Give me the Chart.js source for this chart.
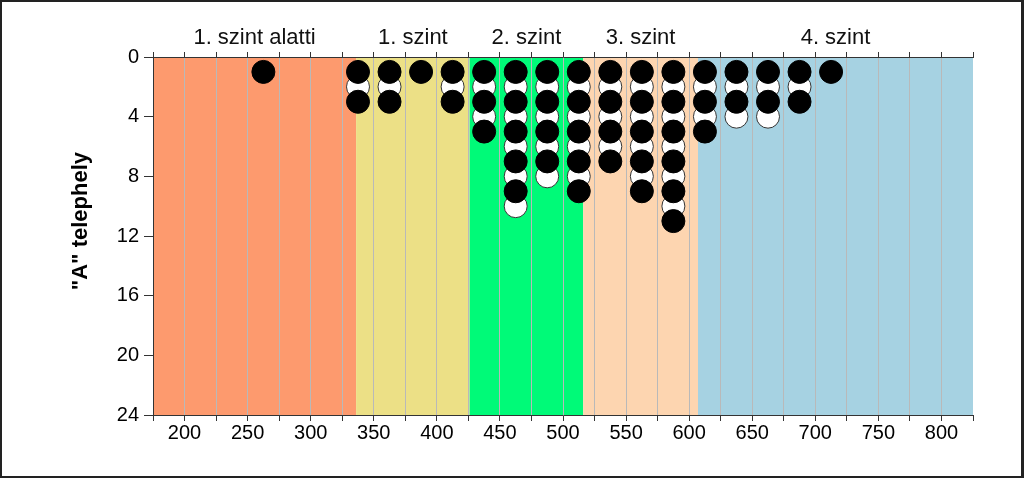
<!DOCTYPE html>
<html>
<head>
<meta charset="utf-8">
<script src="https://cdn.jsdelivr.net/npm/chart.js@4/dist/chart.umd.min.js"></script>
<style>
    html, body { margin: 0; padding: 0; background: #fff; }
    #frame {
        width: 1024px;
        height: 478px;
        box-sizing: border-box;
        border: 2px solid #222;
        border-right-width: 3px;
    }
    canvas { display: block; }
</style>
</head>
<body>
<div id="frame">
    <canvas id="dotChart" width="1019" height="474"></canvas>
</div>
<script>
// Bin centres (x) and how many samples fall in each bin
const binCenters = [262.5, 337.5, 362.5, 387.5, 412.5, 437.5, 462.5, 487.5, 512.5,
                    537.5, 562.5, 587.5, 612.5, 637.5, 662.5, 687.5, 712.5];
const binCounts = [1, 3, 3, 1, 3, 5, 10, 8, 9, 7, 9, 11, 5, 4, 4, 3, 1];

// Level bands along the x axis
const bandLabels = ['1. szint alatti', '1. szint', '2. szint', '3. szint', '4. szint'];
const bandEdges = [175, 336, 426, 516, 607, 825];
const bandColors = ['#fd9a6e', '#ece086', '#00fa78', '#fdd5b0', '#a6d2e2'];

const xMin = 175;
const xMax = 825;
const yTicks = [0, 4, 8, 12, 16, 20, 24];
const yTitle = '"A" telephely';

const FONT = "'Liberation Sans', Arial, sans-serif";

// Stack the dots of each bin, alternating black / white
const blackDots = [];
const whiteDots = [];
binCenters.forEach((x, i) => {
    for (let k = 1; k <= binCounts[i]; k++) {
        (k % 2 === 1 ? blackDots : whiteDots).push({ x: x, y: k });
    }
});

// Coloured level bands behind the grid, band names and the y title on top
const bandsPlugin = {
    id: 'bands',
    beforeDraw(chart) {
        const { ctx, chartArea, scales } = chart;
        ctx.save();
        for (let i = 0; i < bandLabels.length; i++) {
            const x0 = scales.x.getPixelForValue(bandEdges[i]);
            const x1 = scales.x.getPixelForValue(bandEdges[i + 1]);
            ctx.fillStyle = bandColors[i];
            ctx.fillRect(x0, chartArea.top, x1 - x0, chartArea.bottom - chartArea.top);
        }
        ctx.restore();
    },
    afterDraw(chart) {
        const { ctx, chartArea, scales } = chart;
        ctx.save();
        ctx.font = '22px ' + FONT;
        ctx.fillStyle = '#111';
        ctx.textAlign = 'center';
        ctx.textBaseline = 'middle';
        for (let i = 0; i < bandLabels.length; i++) {
            const x0 = scales.x.getPixelForValue(bandEdges[i]);
            const x1 = scales.x.getPixelForValue(bandEdges[i + 1]);
            ctx.fillText(bandLabels[i], (x0 + x1) / 2, chartArea.top - 19);
        }
        // y axis title, sits a bit above the middle of the plot
        ctx.font = 'bold 22px ' + FONT;
        ctx.fillStyle = '#000';
        ctx.translate(79, scales.y.getPixelForValue(11));
        ctx.rotate(-Math.PI / 2);
        ctx.fillText(yTitle, 0, 0);
        ctx.restore();
    }
};

new Chart(document.getElementById('dotChart'), {
    type: 'scatter',
    data: {
        datasets: [
            {
                label: 'black',
                data: blackDots,
                backgroundColor: '#000',
                borderColor: '#000',
                borderWidth: 1,
                pointRadius: 11.5,
                pointHoverRadius: 11.5,
                order: 1
            },
            {
                label: 'white',
                data: whiteDots,
                backgroundColor: '#fff',
                borderColor: '#333',
                borderWidth: 1,
                pointRadius: 11.5,
                pointHoverRadius: 11.5,
                order: 2
            }
        ]
    },
    options: {
        responsive: false,
        animation: false,
        layout: { padding: { left: 0, right: 48, top: 0, bottom: 0 } },
        plugins: {
            legend: { display: false },
            tooltip: { enabled: false }
        },
        scales: {
            x: {
                type: 'linear',
                position: 'bottom',
                min: xMin,
                max: xMax,
                afterBuildTicks(scale) {
                    const ticks = [];
                    for (let v = xMin; v <= xMax; v += 25) ticks.push({ value: v });
                    scale.ticks = ticks;
                },
                ticks: {
                    autoSkip: false,
                    maxRotation: 0,
                    color: '#000',
                    padding: 0,
                    font: { family: FONT, size: 20 },
                    callback: v => (v % 50 === 0 && v > xMin && v < xMax) ? String(v) : ''
                },
                grid: {
                    color: c => (c.tick && (c.tick.value === xMin || c.tick.value === xMax)) ? 'rgba(0,0,0,0)' : '#b9b9b9',
                    tickColor: '#333',
                    tickLength: 6,
                    lineWidth: 1
                },
                border: { display: true, color: '#333', width: 1 },
                afterFit(scale) { scale.height = 61; }
            },
            x2: {
                type: 'linear',
                position: 'top',
                min: xMin,
                max: xMax,
                afterBuildTicks(scale) {
                    const ticks = [];
                    for (let v = xMin; v <= xMax; v += 25) ticks.push({ value: v });
                    scale.ticks = ticks;
                },
                ticks: { display: false, autoSkip: false },
                grid: {
                    drawOnChartArea: false,
                    color: '#333',
                    tickColor: '#333',
                    tickLength: 5
                },
                border: { display: true, color: '#333', width: 1 },
                afterFit(scale) { scale.height = 55; }
            },
            y: {
                type: 'linear',
                reverse: true,
                min: 0,
                max: 24,
                afterBuildTicks(scale) {
                    scale.ticks = yTicks.map(v => ({ value: v }));
                },
                ticks: {
                    color: '#000',
                    padding: 5,
                    font: { family: FONT, size: 20 }
                },
                grid: {
                    drawOnChartArea: false,
                    color: '#333',
                    tickColor: '#333',
                    tickLength: 9
                },
                border: { display: true, color: '#333', width: 1 },
                afterFit(scale) { scale.width = 151; }
            }
        }
    },
    plugins: [bandsPlugin]
});
</script>
</body>
</html>
